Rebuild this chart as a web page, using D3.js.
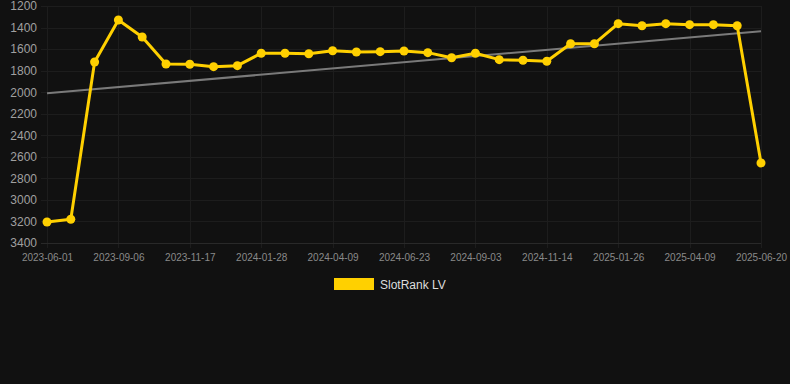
<!DOCTYPE html>
<html><head><meta charset="utf-8">
<script src="https://cdn.jsdelivr.net/npm/d3@7"></script>
<style>html,body{margin:0;padding:0;background:#111111;}svg{display:block;}</style>
</head><body>
<svg id="c" width="790" height="384"></svg>
<script>
const dates = ["2023-06-01","2023-07-03","2023-08-04","2023-09-06","2023-09-30","2023-10-24","2023-11-17","2023-12-11","2024-01-04","2024-01-28","2024-02-21","2024-03-16","2024-04-09","2024-05-04","2024-05-29","2024-06-23","2024-07-17","2024-08-10","2024-09-03","2024-09-27","2024-10-21","2024-11-14","2024-12-08","2025-01-01","2025-01-26","2025-02-19","2025-03-15","2025-04-09","2025-05-03","2025-05-27","2025-06-20"];
const rankLV = [3205,3180,1720,1330,1488,1738,1741,1763,1754,1639,1639,1643,1615,1627,1624,1618,1633,1680,1639,1698,1704,1713,1550,1550,1364,1383,1364,1373,1373,1383,2657];
const yTicks = [1200,1400,1600,1800,2000,2200,2400,2600,2800,3000,3200,3400];
const seriesName = "SlotRank LV";

(function(){
const svg = d3.select("#c");
const L = 47, R = 761, T = 6, B = 243;
const x = d3.scalePoint().domain(dates).range([L, R]);
const y = d3.scaleLinear().domain([1200, 3400]).range([T, B]);
const gridColor = "#1d1d1d";
const font = "Arial, 'Liberation Sans', sans-serif";

const shown = dates.filter((d,i)=>i%3===0);
svg.append("g").selectAll("line").data(shown).join("line")
  .attr("x1", d=>Math.round(x(d))+0.5).attr("x2", d=>Math.round(x(d))+0.5)
  .attr("y1", T).attr("y2", B+5)
  .attr("stroke", gridColor).attr("stroke-width",1);
svg.append("g").selectAll("line").data(yTicks).join("line")
  .attr("x1", 41).attr("x2", R).attr("y1", d=>Math.round(y(d))+0.5).attr("y2", d=>Math.round(y(d))+0.5)
  .attr("stroke", d=>d===3400 ? "#292929" : gridColor).attr("stroke-width",1);

const yAxis = d3.axisLeft(y).tickValues(yTicks).tickSize(0).tickPadding(0).tickFormat(d=>d);
const gy = svg.append("g").attr("transform","translate(37,0)").call(yAxis);
gy.select(".domain").remove();
gy.selectAll("text").attr("fill","#a0a0a0").style("font-family",font).style("font-size","12px");

const xAxis = d3.axisBottom(x).tickValues(shown).tickSize(0).tickPadding(0);
const gx = svg.append("g").attr("transform",`translate(0,${B+11})`).call(xAxis);
gx.select(".domain").remove();
gx.selectAll("text").attr("fill","#8a8a8a").style("font-family",font).style("font-size","10px");

const n = rankLV.length;
const xs = rankLV.map((v,i)=>i);
const mx = d3.mean(xs), my = d3.mean(rankLV);
const slope = d3.sum(xs.map((xi,i)=>(xi-mx)*(rankLV[i]-my))) / d3.sum(xs.map(xi=>(xi-mx)**2));
const b = my - slope*mx;
svg.append("line")
  .attr("x1", x(dates[0])).attr("y1", y(b))
  .attr("x2", x(dates[n-1])).attr("y2", y(b + slope*(n-1)))
  .attr("stroke","#7a7a7a").attr("stroke-width",2);

const color = "#FFD000";
svg.append("path").datum(rankLV)
  .attr("d", d3.line().x((d,i)=>x(dates[i])).y(d=>y(d)))
  .attr("fill","none").attr("stroke",color).attr("stroke-width",3).attr("stroke-linejoin","round");
svg.append("g").selectAll("circle").data(rankLV).join("circle")
  .attr("cx",(d,i)=>x(dates[i])).attr("cy",d=>y(d)).attr("r",4.5).attr("fill",color);

svg.append("rect").attr("x",334).attr("y",278).attr("width",40).attr("height",12).attr("fill",color);
svg.append("text").attr("x",380).attr("y",289).text(seriesName)
  .attr("fill","#dddddd").style("font-family",font).style("font-size","12px");
})();
</script>
</body></html>
